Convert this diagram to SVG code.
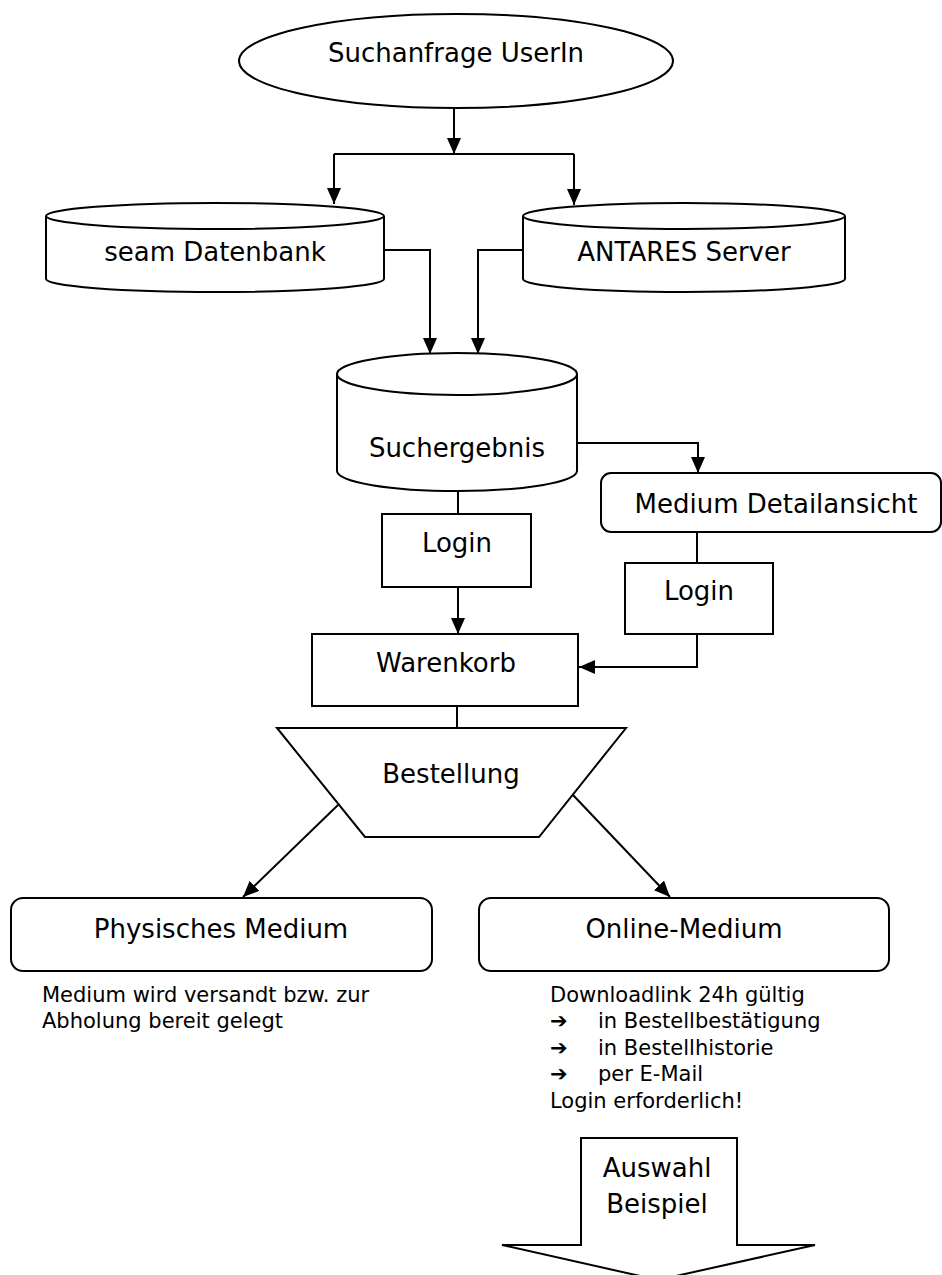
<svg xmlns="http://www.w3.org/2000/svg" width="942" height="1275" viewBox="0 0 942 1275">
<style>
.shape{fill:#fff;stroke:#000;stroke-width:2}
.conn{fill:none;stroke:#000;stroke-width:2}
.lbl{font-family:"DejaVu Sans","Liberation Sans",sans-serif;font-size:26px;fill:#000;text-anchor:middle}
.desc{font-family:"DejaVu Sans","Liberation Sans",sans-serif;font-size:21px;fill:#000}
.bul{font-family:"DejaVu Sans","Liberation Sans",sans-serif;font-size:21px;font-weight:bold;fill:#000}
</style>
<defs>
<marker id="arr" markerUnits="userSpaceOnUse" markerWidth="16" markerHeight="14" refX="16" refY="7" orient="auto">
<path d="M0,0 L16,7 L0,14 z" fill="#000"/>
</marker>
</defs>
<rect width="942" height="1275" fill="#fff"/>
<g id="connectors">
<path class="conn" d="M454,109 V154" marker-end="url(#arr)"/>
<path class="conn" d="M334,154 H574"/>
<path class="conn" d="M334,154 V204" marker-end="url(#arr)"/>
<path class="conn" d="M574,154 V205" marker-end="url(#arr)"/>
<path class="conn" d="M384,250 H430 V354" marker-end="url(#arr)"/>
<path class="conn" d="M523,250 H478 V354" marker-end="url(#arr)"/>
<path class="conn" d="M577,443 H698 V473" marker-end="url(#arr)"/>
<path class="conn" d="M458,491 V514"/>
<path class="conn" d="M458,587 V634" marker-end="url(#arr)"/>
<path class="conn" d="M697,532 V563"/>
<path class="conn" d="M697,634 V667 H579" marker-end="url(#arr)"/>
<path class="conn" d="M457,706 V728"/>
<path class="conn" d="M338,805 L243,897" marker-end="url(#arr)"/>
<path class="conn" d="M573,795 L670,897" marker-end="url(#arr)"/>
</g>
<g id="suchanfrage">
<ellipse class="shape" cx="456" cy="61" rx="217" ry="47"/>
<text class="lbl" x="456" y="62">Suchanfrage UserIn</text>
</g>
<g id="seam">
<path class="shape" d="M46,216 V279 A169,13 0 0 0 384,279 V216"/>
<ellipse class="shape" cx="215" cy="216" rx="169" ry="13"/>
<text class="lbl" x="215" y="261">seam Datenbank</text>
</g>
<g id="antares">
<path class="shape" d="M523,216 V279 A161,13 0 0 0 845,279 V216"/>
<ellipse class="shape" cx="684" cy="216" rx="161" ry="13"/>
<text class="lbl" x="684" y="261">ANTARES Server</text>
</g>
<g id="suchergebnis">
<path class="shape" d="M337,374 V471 A120,20 0 0 0 577,471 V374"/>
<ellipse class="shape" cx="457" cy="374" rx="120" ry="21"/>
<text class="lbl" x="457" y="457">Suchergebnis</text>
</g>
<g id="detail">
<rect class="shape" x="601" y="473" width="340" height="59" rx="10"/>
<text class="lbl" x="776" y="513">Medium Detailansicht</text>
</g>
<g id="login1">
<rect class="shape" x="382" y="514" width="149" height="73"/>
<text class="lbl" x="457" y="552">Login</text>
</g>
<g id="login2">
<rect class="shape" x="625" y="563" width="148" height="71"/>
<text class="lbl" x="699" y="600">Login</text>
</g>
<g id="warenkorb">
<rect class="shape" x="312" y="634" width="266" height="72"/>
<text class="lbl" x="446" y="672">Warenkorb</text>
</g>
<g id="bestellung">
<polygon class="shape" points="277,728 626,728 539,837 365,837"/>
<text class="lbl" x="451" y="783">Bestellung</text>
</g>
<g id="physisch">
<rect class="shape" x="11" y="898" width="421" height="73" rx="12"/>
<text class="lbl" x="221" y="938">Physisches Medium</text>
<text class="desc" x="42" y="1002">Medium wird versandt bzw. zur</text>
<text class="desc" x="42" y="1028">Abholung bereit gelegt</text>
</g>
<g id="online">
<rect class="shape" x="479" y="898" width="410" height="73" rx="12"/>
<text class="lbl" x="684" y="938">Online-Medium</text>
<text class="desc" x="550" y="1002">Downloadlink 24h gültig</text>
<text class="bul" x="550" y="1028">➔</text><text class="desc" x="598" y="1028">in Bestellbestätigung</text>
<text class="bul" x="550" y="1055">➔</text><text class="desc" x="598" y="1055">in Bestellhistorie</text>
<text class="bul" x="550" y="1081">➔</text><text class="desc" x="598" y="1081">per E-Mail</text>
<text class="desc" x="550" y="1108">Login erforderlich!</text>
</g>
<g id="auswahl">
<polygon class="shape" points="581,1138 737,1138 737,1245 815,1245 658,1280 502,1245 581,1245"/>
<text class="lbl" x="657" y="1177">Auswahl</text>
<text class="lbl" x="657" y="1213">Beispiel</text>
</g>
</svg>
